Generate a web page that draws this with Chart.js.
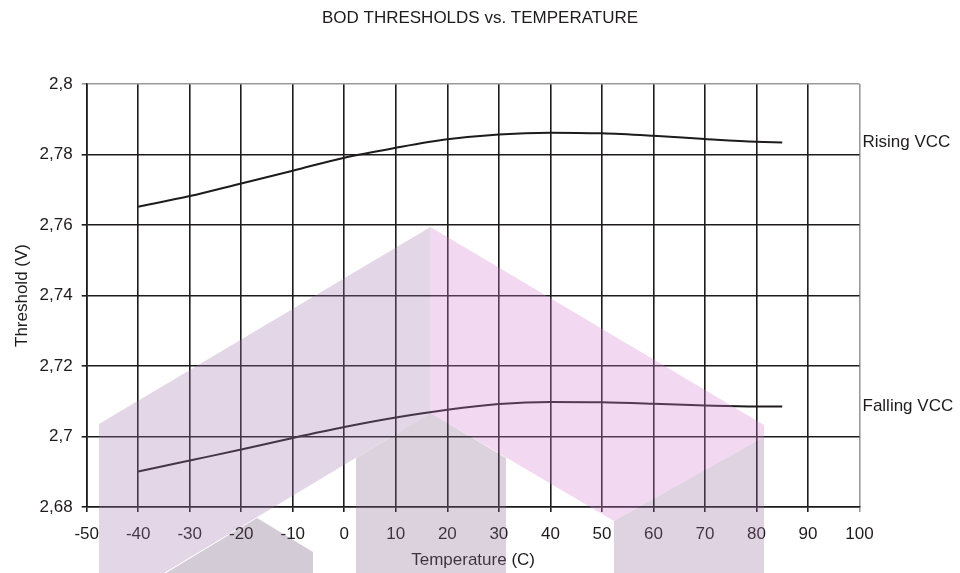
<!DOCTYPE html>
<html>
<head>
<meta charset="utf-8">
<script src="https://cdn.jsdelivr.net/npm/chart.js@4/dist/chart.umd.min.js"></script>
<style>
  html, body { margin: 0; padding: 0; background: #ffffff; }
  #wrap { width: 960px; height: 573px; position: relative; }
</style>
</head>
<body>
<div id="wrap"><canvas id="c" width="960" height="573"></canvas></div>
<script>
// ---- Data ----
const temperatures = [-40, -30, -20, -10, 0, 10, 20, 30, 40, 50, 60, 70, 80, 85];
const risingVcc    = [2.7652, 2.7682, 2.7718, 2.7754, 2.7791, 2.7819, 2.7843, 2.7857, 2.7862, 2.7860, 2.7853, 2.7844, 2.7836, 2.7834];
const fallingVcc   = [2.6901, 2.6932, 2.6963, 2.6996, 2.7027, 2.7054, 2.7076, 2.7092, 2.7098, 2.7097, 2.7093, 2.7088, 2.7085, 2.7085];
const seriesNames  = ['Rising VCC', 'Falling VCC'];
const chartTitle   = 'BOD THRESHOLDS vs. TEMPERATURE';
const xTitle       = 'Temperature (C)';
const yTitle       = 'Threshold (V)';
const xRange       = [-50, 100, 10];
const yRange       = [2.68, 2.8, 0.02];

const FONT = '"Liberation Sans", Arial, Helvetica, sans-serif';
const INK = '#1e1b1c';
const LIGHT = '#9a9a9a';

const toPoints = (xs, ys) => xs.map((x, i) => ({ x, y: ys[i] }));
const fmt = v => Number(v.toFixed(2)).toString().replace('.', ',');

// series labels at the end of each line
const endLabels = {
  id: 'endLabels',
  afterDatasetsDraw(chart) {
    const ctx = chart.ctx;
    ctx.save();
    ctx.font = '17px ' + FONT;
    ctx.fillStyle = INK;
    ctx.textAlign = 'left';
    ctx.textBaseline = 'middle';
    chart.data.datasets.forEach((ds, i) => {
      const pts = chart.getDatasetMeta(i).data;
      const last = pts[pts.length - 1];
      ctx.fillText(ds.label, chart.chartArea.right + 3, last.y);
    });
    ctx.restore();
  }
};

// translucent background watermark (decoration only, not data)
const watermark = {
  id: 'watermark',
  afterDraw(chart) {
    const ctx = chart.ctx;
    const shapes = [
      { c: 'rgba(162,118,172,0.3)', p: [[99,573],[99,424],[430.5,227],[430.5,413],[164,573]] },
      { c: 'rgba(212,128,208,0.3)', p: [[430.5,227],[764,425],[764,437],[614,521],[430.5,413]] },
      { c: 'rgba(138,105,145,0.3)', p: [[356,573],[356,458],[430.5,413],[506,458],[506,573]] },
      { c: 'rgba(108,82,118,0.3)',  p: [[166,573],[257,518],[313,552],[313,573]] },
      { c: 'rgba(150,110,158,0.3)', p: [[614,573],[614,521],[764,437],[764,573]] }
    ];
    ctx.save();
    shapes.forEach(s => {
      ctx.beginPath();
      s.p.forEach((pt, i) => i ? ctx.lineTo(pt[0], pt[1]) : ctx.moveTo(pt[0], pt[1]));
      ctx.closePath();
      ctx.fillStyle = s.c;
      ctx.fill();
    });
    ctx.restore();
  }
};

new Chart(document.getElementById('c'), {
  type: 'line',
  data: {
    datasets: [
      { label: seriesNames[0], data: toPoints(temperatures, risingVcc) },
      { label: seriesNames[1], data: toPoints(temperatures, fallingVcc) }
    ]
  },
  options: {
    responsive: false,
    animation: false,
    devicePixelRatio: 1,
    layout: { padding: { left: 0, right: 0, top: 0, bottom: 0 } },
    elements: {
      line: { borderColor: INK, borderWidth: 2, tension: 0.4, cubicInterpolationMode: 'monotone', fill: false },
      point: { radius: 0, hoverRadius: 0 }
    },
    plugins: {
      legend: { display: false },
      tooltip: { enabled: false },
      title: {
        display: true,
        text: chartTitle,
        color: INK,
        font: { family: FONT, size: 17, weight: 'normal', lineHeight: 1.2 },
        padding: { top: 8.3, bottom: 55.3 }
      }
    },
    scales: {
      x: {
        type: 'linear',
        min: xRange[0], max: xRange[1],
        afterFit: s => { s.height = 66; },
        ticks: { stepSize: xRange[2], color: INK, padding: 12, maxRotation: 0, autoSkip: false,
                 font: { family: FONT, size: 17 } },
        grid: {
          color: c => (c.tick && c.tick.value === xRange[1]) ? LIGHT : INK,
          lineWidth: 1.6, tickLength: 5, drawTicks: true
        },
        border: { color: INK, width: 1.6 },
        title: { display: true, text: xTitle, color: INK, font: { family: FONT, size: 17 }, padding: { top: 0, bottom: 2 } }
      },
      y: {
        type: 'linear',
        min: yRange[0], max: yRange[1],
        afterFit: s => { s.width = 86.7; },
        ticks: { stepSize: yRange[2], color: INK, padding: 9, callback: v => fmt(v),
                 font: { family: FONT, size: 17 } },
        grid: {
          color: c => (c.tick && Math.abs(c.tick.value - yRange[1]) < 1e-9) ? LIGHT : INK,
          lineWidth: 1.6, tickLength: 5, drawTicks: true
        },
        border: { color: INK, width: 1.6 },
        title: { display: true, text: yTitle, color: INK, font: { family: FONT, size: 17 }, padding: { top: 12, bottom: 0 } }
      },
      yRight: {
        type: 'linear', position: 'right', display: true,
        min: yRange[0], max: yRange[1],
        afterFit: s => { s.width = 100.5; },
        ticks: { display: false },
        grid: { display: false, drawTicks: false },
        border: { display: false }
      }
    }
  },
  plugins: [endLabels, watermark]
});
</script>
</body>
</html>
